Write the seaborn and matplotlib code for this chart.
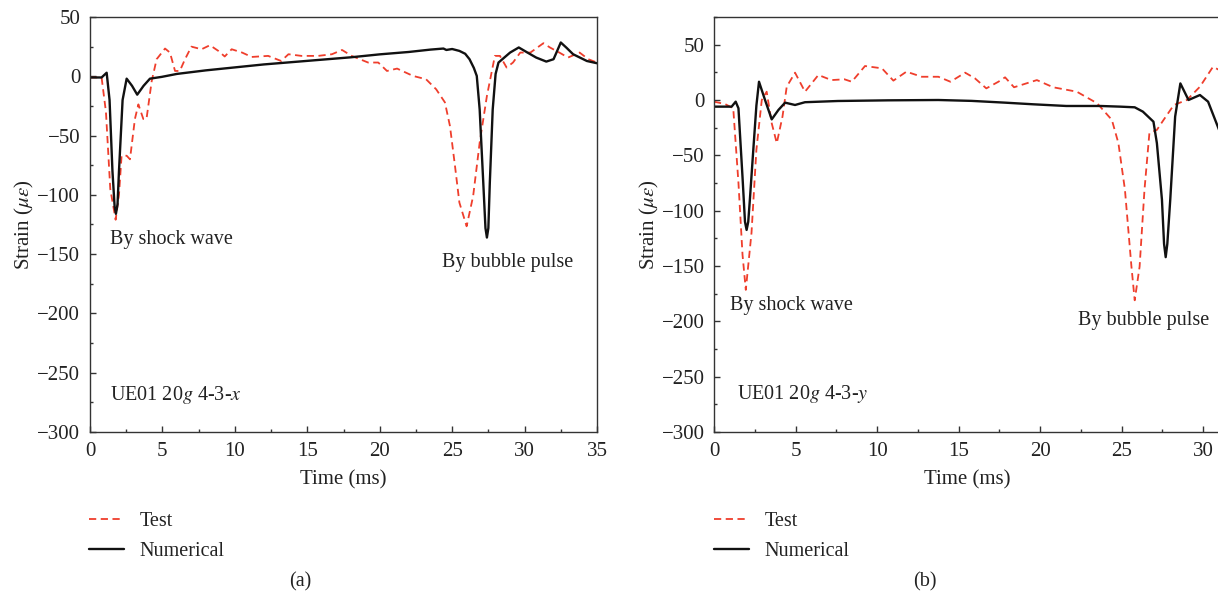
import matplotlib
matplotlib.use("Agg")
import matplotlib.pyplot as plt
import seaborn as sns
import pandas as pd
from matplotlib.ticker import MultipleLocator

# ---------------- data (a) ----------------
a_num_t = [0, 0.8, 1.15, 1.35, 1.55, 1.7, 1.79, 1.9, 2.0, 2.25, 2.53, 2.9, 3.26, 3.7, 4.14, 4.95, 6, 8, 10, 12, 14, 16,
           18, 20, 22, 23.5, 24.4, 24.6, 25.0, 25.5, 25.9, 26.2, 26.5, 26.7, 26.9, 27.15, 27.3, 27.4, 27.5, 27.6, 27.8,
           28.0, 28.2, 28.6, 29.0, 29.6, 30.2, 30.8, 31.5, 32.0, 32.2, 32.5, 32.9, 33.35, 34.3, 35]
a_num_v = [-1, -1, 3, -20, -80, -110, -116, -108, -80, -20, -2, -8, -15.5, -8, -2, -0.5, 2, 5, 7.5, 10, 12, 14,
           16, 18.5, 20.5, 22.5, 23.4, 22.2, 23, 21.4, 19, 14.4, 7, 0.3, -28, -90, -128, -136, -128, -90, -28,
           2, 11.6, 15.8, 20, 24.3, 20, 15.8, 12.4, 14.4, 20, 28.5, 24, 18.6, 12.9, 11]

a_test_t = [0, 0.8, 1.1, 1.4, 1.77, 2.0, 2.18, 2.53, 2.76, 3.1, 3.34, 3.68, 3.9, 4.26, 4.6, 5.18, 5.52, 5.87,
            6.2, 6.56, 7.0, 7.7, 8.28, 8.86, 9.3, 9.78, 10.5, 11.16, 12.3, 13.2, 13.7, 14.6, 15.75, 16.7,
            17.4, 18.06, 19.2, 19.9, 20.5, 21.2, 22.3, 23.2, 23.9, 24.5, 24.85, 25.2, 25.5, 26.0, 26.45,
            26.9, 27.4, 27.95, 28.3, 28.76, 29.2, 29.7, 30.4, 31.3, 31.75, 32.4, 33.0, 33.8, 34.4, 35]
a_test_v = [-1, -1, -30, -95, -121, -100, -67, -67, -70, -36, -23.7, -36, -36, -4, 14.4, 23.4, 20, 4.5,
            4.5, 14.4, 25, 22.8, 26.2, 21.4, 16.7, 22.8, 20, 16.3, 17.2, 12.9, 18.6, 17.2, 17.2, 18.6,
            22.2, 17.2, 11.6, 11.6, 4.5, 6.5, 0.3, -2.5, -11, -22, -42, -76, -106.5, -126.5, -101,
            -56, -16.6, 17.2, 17.2, 7.4, 11.6, 20, 20, 27.9, 24.3, 20, 15.8, 20, 14.4, 11.6]

# ---------------- data (b) ----------------
b_num_t = [0, 1.08, 1.33, 1.5, 1.75, 1.9, 2.0, 2.1, 2.2, 2.41, 2.6, 2.76, 3.13, 3.54, 3.95, 4.36, 4.97, 5.58, 7.6,
           10.7, 13.76, 15.8, 17.85, 19.6, 21.6, 23.7, 24.9, 25.8, 26.3, 26.95, 27.16, 27.47, 27.6, 27.7, 27.8, 27.98,
           28.28, 28.6, 29.1, 29.8, 30.3, 31]
b_num_v = [-6, -6, -1.5, -7.5, -70, -110, -117.4, -110, -90, -45, -5, 16.5, 0, -17.5, -9, -2.4, -4.5, -2, -0.9,
           -0.3, 0, -0.8, -2.4, -3.9, -5.4, -5.4, -6, -6.6, -10.5, -19.6, -39, -90, -130, -142, -130, -90,
           -15, 15, 0, 4.5, -1.5, -28]

b_test_t = [0, 0.67, 1.18, 1.5, 1.75, 1.95, 2.3, 2.6, 2.93, 3.23, 3.54, 3.85, 4.2, 4.46, 4.97, 5.58, 6.4,
            7.2, 8.0, 8.45, 9.26, 10.3, 11.0, 11.8, 12.74, 13.76, 14.5, 15.4, 16.0, 16.7, 17.44, 17.85,
            18.4, 19.8, 20.8, 22.25, 23.5, 24.4, 24.8, 25.2, 25.6, 25.8, 26.1, 26.4, 26.7, 27.16, 27.57,
            28.2, 29.0, 29.8, 30.6, 31]
b_test_v = [-1.5, -3.6, -7.5, -75, -140, -171.6, -120, -45, 0, 7.5, -21, -39, -15, 12, 24.7, 7.5, 22.6,
            18, 18.7, 16.5, 30.7, 28.6, 17.5, 25.6, 21, 21, 16.5, 24.7, 19.6, 10.5, 16.5, 20.5,
            11.5, 18, 11.5, 7.5, -3, -18, -39, -81, -150.6, -181, -150.6, -81, -30, -27, -18,
            -4.5, 0, 12, 30, 27]

series_labels = ["Test", "Numerical"]
x_ticks_a = [0, 5, 10, 15, 20, 25, 30, 35]
y_ticks = [50, 0, -50, -100, -150, -200, -250, -300]

# ---------------- style ----------------
sns.set_style("ticks")
plt.rcParams['font.family'] = ['Liberation Serif', 'DejaVu Serif']
plt.rcParams['mathtext.fontset'] = 'stix'
plt.rcParams['axes.unicode_minus'] = True
FS = 14.5
FT = 15
TXT = '#222222'
RED = '#ef3e2c'
DASH = (0, (4, 2.5))

W, H = 1218, 600
fig = plt.figure(figsize=(W / 100, H / 100), dpi=100)

def fx(px):
    return px / W

def fy(py):
    return 1 - py / H

ax_a = fig.add_axes([fx(90), fy(432), fx(597) - fx(90), fy(17) - fy(432)])
ax_b = fig.add_axes([fx(714), fy(432), fx(1219.5) - fx(714), fy(17) - fy(432)])

def draw(ax, tt, tv, nt, nv):
    df_t = pd.DataFrame({"Time": tt, "Strain": tv})
    df_n = pd.DataFrame({"Time": nt, "Strain": nv})
    sns.lineplot(data=df_t, x="Time", y="Strain", ax=ax, color=RED, linestyle=DASH, linewidth=1.3,
                 sort=False, estimator=None, label=series_labels[0])
    sns.lineplot(data=df_n, x="Time", y="Strain", ax=ax, color='#111111', linewidth=1.7,
                 sort=False, estimator=None, label=series_labels[1])

draw(ax_a, a_test_t, a_test_v, a_num_t, a_num_v)
draw(ax_b, b_test_t, b_test_v, b_num_t, b_num_v)

ax_a.set_xlim(0, 35)
ax_a.set_ylim(-300, 50)
ax_b.set_xlim(0, 31)
ax_b.set_ylim(-300, 75)

for ax, pad_y in ((ax_a, 7), (ax_b, 6.5)):
    ax.xaxis.set_major_locator(MultipleLocator(5))
    ax.xaxis.set_minor_locator(MultipleLocator(2.5))
    ax.set_yticks(y_ticks)
    ax.yaxis.set_minor_locator(MultipleLocator(25))
    ax.tick_params(which='both', direction='in', top=False, right=False, colors='#333333',
                   labelcolor=TXT, labelsize=FT, width=1.0)
    ax.tick_params(which='major', length=4)
    ax.tick_params(which='minor', length=2.5)
    ax.tick_params(axis='y', pad=pad_y)
    ax.tick_params(axis='x', pad=7)
    for s in ax.spines.values():
        s.set_color('#333333')
        s.set_linewidth(1.0)
    ax.set_xlabel("Time (ms)", fontsize=FT, color=TXT, labelpad=7)
    ax.set_ylabel(r"Strain ($\mu\varepsilon$)", fontsize=FT, color=TXT, labelpad=1)
    ax.get_legend().remove()

ax_a.set_xticks(x_ticks_a)

# annotations
ax_a.text(1.38, -138, "By shock wave", fontsize=FS, color=TXT, va='center', ha='left')
ax_a.text(24.3, -157, "By bubble pulse", fontsize=FS, color=TXT, va='center', ha='left')
ax_a.text(1.38, -269, r"UE01 20$g$ 4-3-$x$", fontsize=FS, color=TXT, va='center', ha='left')

ax_b.text(0.98, -186, "By shock wave", fontsize=FS, color=TXT, va='center', ha='left')
ax_b.text(22.3, -199, "By bubble pulse", fontsize=FS, color=TXT, va='center', ha='left')
ax_b.text(1.4, -266, r"UE01 20$g$ 4-3-$y$", fontsize=FS, color=TXT, va='center', ha='left')

# legends below panels
for ax, x0 in ((ax_a, 89), (ax_b, 714)):
    h, l = ax.get_legend_handles_labels()
    leg = fig.legend(h, l, loc='upper left', bbox_to_anchor=(fx(x0), fy(512)),
                     bbox_transform=fig.transFigure, frameon=False, fontsize=FS,
                     handlelength=1.75, handletextpad=0.75, labelspacing=0.52,
                     borderpad=0, borderaxespad=0)
    for t in leg.get_texts():
        t.set_color(TXT)

fig.text(fx(300), fy(582), "(a)", fontsize=FS, color=TXT, ha='center', va='center')
fig.text(fx(925), fy(582), "(b)", fontsize=FS, color=TXT, ha='center', va='center')

fig.savefig("out.png", dpi=100)
